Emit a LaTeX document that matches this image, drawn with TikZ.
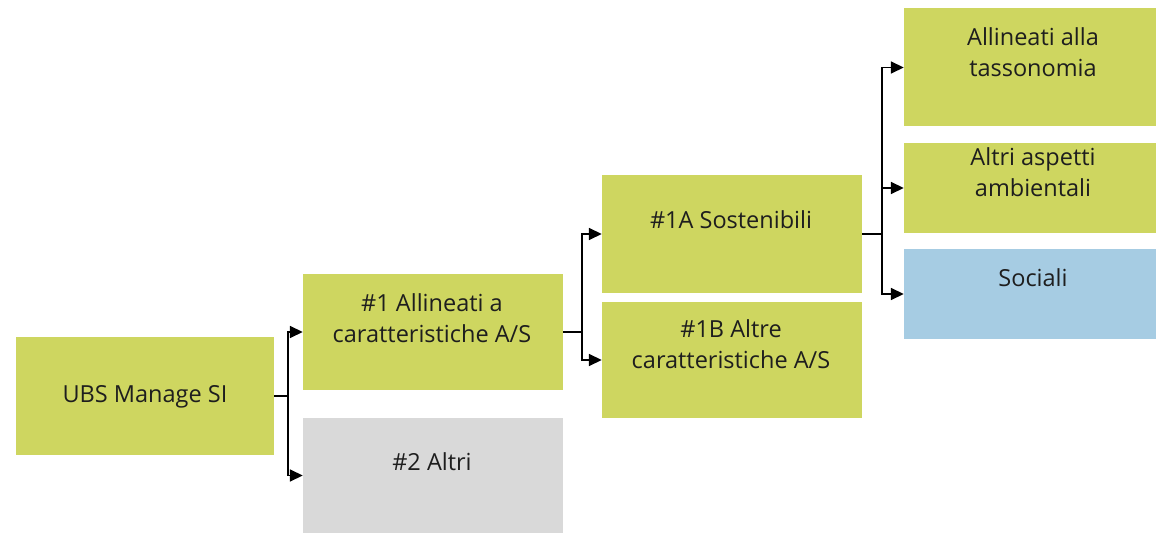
\documentclass[tikz,border=0pt]{standalone}
\usepackage{fontspec}
\setmainfont{Open Sans}
\usetikzlibrary{arrows.meta}
\definecolor{boxgreen}{RGB}{206,214,96}
\definecolor{boxblue}{RGB}{166,204,227}
\definecolor{boxgrey}{RGB}{217,217,217}
\definecolor{txt}{RGB}{30,30,30}
\tikzset{
  box/.style={draw=none, inner sep=0pt, minimum width=#1, anchor=center},
  green/.style={fill=boxgreen},
  blue/.style={fill=boxblue},
  grey/.style={fill=boxgrey},
  lbl/.style={text=txt, align=center, font=\fontsize{23.5bp}{31bp}\selectfont, inner sep=0pt},
  arr/.style={draw=black, line width=1.6bp, -{Triangle[length=13bp,width=12bp]}},
}
\begin{document}
\begin{tikzpicture}[x=1bp,y=-1bp]
\useasboundingbox (0,0) rectangle (1156,535);
% boxes
\node[box=258bp, minimum height=118bp, green] (ubs) at (145,396) {};
\node[box=260bp, minimum height=116bp, green] (a1) at (433,332) {};
\node[box=260bp, minimum height=115bp, grey] (a2) at (433,475.5) {};
\node[box=260bp, minimum height=118bp, green] (a1a) at (732,234) {};
\node[box=260bp, minimum height=116bp, green] (a1b) at (732,360) {};
\node[box=252bp, minimum height=118bp, green] (tax) at (1030,67.5) {};
\node[box=252bp, minimum height=90bp, green] (env) at (1030,188) {};
\node[box=252bp, minimum height=90bp, blue] (soc) at (1030,294) {};
% labels
\node[lbl] (ubsT) at (145,397) {UBS Manage SI};
\node[lbl] (a1T) at (432,318) {\#1 Allineati a\\caratteristiche A/S};
\node[lbl] (a2T) at (432,462) {\#2 Altri};
\node[lbl] (a1aT) at (731,220) {\#1A Sostenibili};
\node[lbl] (a1bT) at (731,344) {\#1B Altre\\caratteristiche A/S};
\node[lbl] (taxT) at (1033,52) {Allineati alla\\tassonomia};
\node[lbl] (envT) at (1033,172) {Altri aspetti\\ambientali};
\node[lbl] (socT) at (1033,278) {Sociali};
% connectors
\draw[arr] (ubs.east) -- ++(14,0) |- (a1.west);
\draw[arr] (ubs.east) -- ++(14,0) |- (a2.west);
\draw[arr] (a1.east) -- ++(19,0) |- (a1a.west);
\draw[arr] (a1.east) -- ++(19,0) |- (a1b.west);
\draw[arr] (a1a.east) -- ++(20,0) |- (tax.west);
\draw[arr] (a1a.east) -- ++(20,0) |- (env.west);
\draw[arr] (a1a.east) -- ++(20,0) |- (soc.west);
\end{tikzpicture}
\end{document}
